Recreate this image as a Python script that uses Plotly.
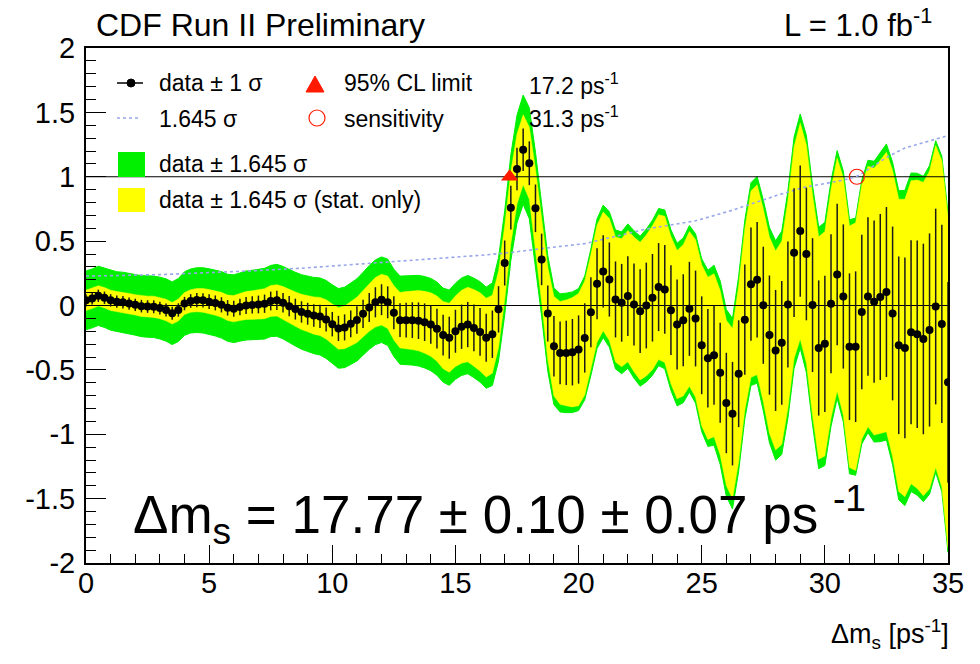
import plotly.graph_objects as go

# ---- amplitude scan data -------------------------------------------------
# oscillation frequency grid, ps^-1 (scan step 0.25)
dms = [round(0.25 * i, 2) for i in range(141)]

# fitted amplitude at each scan point
amplitude = [
    0.040, 0.055, 0.075, 0.060, 0.040, 0.030, 0.025, 0.015, 0.005, -0.005,
    -0.008, -0.010, -0.020, -0.035, -0.060, -0.035, 0.015, 0.035, 0.042, 0.040,
    0.030, 0.020, 0.005, -0.018, -0.025, -0.012, 0.000, 0.004, 0.008, 0.014,
    0.035, 0.040, 0.022, -0.005, -0.028, -0.050, -0.064, -0.078, -0.085, -0.108,
    -0.145, -0.178, -0.170, -0.142, -0.112, -0.065, -0.015, 0.025, 0.045, 0.025,
    -0.057, -0.114, -0.114, -0.114, -0.118, -0.130, -0.148, -0.180, -0.230, -0.250,
    -0.200, -0.165, -0.148, -0.174, -0.205, -0.250, -0.223, -0.030, 0.330, 0.760,
    1.060, 1.210, 1.105, 0.755, 0.358, -0.062, -0.317, -0.368, -0.368, -0.363,
    -0.342, -0.252, -0.052, 0.169, 0.265, 0.202, 0.047, 0.021, 0.073, 0.008,
    -0.044, 0.000, 0.060, 0.143, 0.125, -0.036, -0.148, -0.115, -0.026, -0.101,
    -0.309, -0.410, -0.386, -0.522, -0.757, -0.840, -0.530, -0.110, 0.166, 0.200,
    0.002, -0.230, -0.349, -0.290, 0.008, 0.410, 0.578, 0.400, 0.003, -0.330,
    -0.298, 0.014, 0.241, 0.070, -0.320, -0.320, -0.050, 0.070, 0.030, 0.066,
    0.105, -0.062, -0.309, -0.330, -0.208, -0.223, -0.260, -0.190, -0.008, -0.143,
    -0.597,
]

# statistical uncertainty on the amplitude
sigma_stat = [
    0.048, 0.048, 0.048, 0.048, 0.048, 0.048, 0.048, 0.048, 0.048,
    0.049, 0.049, 0.050, 0.050, 0.051, 0.051, 0.052, 0.052,
    0.053, 0.055, 0.056, 0.057, 0.058, 0.059, 0.060, 0.062,
    0.064, 0.066, 0.067, 0.069, 0.071, 0.073, 0.074, 0.076,
    0.078, 0.081, 0.083, 0.085, 0.088, 0.090, 0.093, 0.095,
    0.098, 0.101, 0.104, 0.107, 0.110, 0.113, 0.117, 0.120,
    0.124, 0.128, 0.131, 0.135, 0.139, 0.142, 0.146, 0.150,
    0.154, 0.159, 0.163, 0.167, 0.172, 0.176, 0.181, 0.185,
    0.186, 0.184, 0.180, 0.175,
    0.170, 0.165, 0.165, 0.170,
    0.185, 0.200, 0.218, 0.235,
    0.243, 0.250, 0.258, 0.265,
    0.269, 0.272, 0.276, 0.280,
    0.288, 0.295, 0.302, 0.310,
    0.318, 0.325, 0.333, 0.340,
    0.342, 0.345, 0.348, 0.350,
    0.357, 0.365, 0.372, 0.380,
    0.383, 0.385, 0.388, 0.390,
    0.402, 0.415, 0.428, 0.440,
    0.448, 0.455, 0.463, 0.470,
    0.480, 0.490, 0.500, 0.510,
    0.515, 0.520, 0.525, 0.530,
    0.540, 0.550, 0.560, 0.570,
    0.585, 0.600, 0.615, 0.630,
    0.645, 0.660, 0.675, 0.690,
    0.702, 0.715, 0.728, 0.740,
    0.750, 0.760, 0.770, 0.780,
]

# total (stat + syst) uncertainty on the amplitude
sigma_tot = [
    0.139, 0.139, 0.140, 0.140, 0.141, 0.141, 0.142, 0.143, 0.143, 0.144,
    0.145, 0.145, 0.146, 0.147, 0.148, 0.149, 0.150, 0.151, 0.153, 0.154,
    0.155, 0.156, 0.157, 0.158, 0.160, 0.161, 0.163, 0.164, 0.165, 0.167,
    0.168, 0.170, 0.171, 0.172, 0.174, 0.176, 0.178, 0.180, 0.182, 0.184,
    0.186, 0.188, 0.190, 0.192, 0.194, 0.196, 0.198, 0.200, 0.202, 0.204,
    0.206, 0.208, 0.210, 0.212, 0.214, 0.216, 0.218, 0.220, 0.222, 0.225,
    0.227, 0.230, 0.232, 0.235, 0.237, 0.239, 0.242, 0.244, 0.246, 0.250,
    0.254, 0.258, 0.262, 0.265, 0.269, 0.273, 0.276, 0.279, 0.282, 0.285,
    0.288, 0.292, 0.299, 0.306, 0.313, 0.320, 0.328, 0.335, 0.341, 0.348,
    0.354, 0.361, 0.366, 0.371, 0.375, 0.379, 0.384, 0.389, 0.393, 0.400,
    0.408, 0.416, 0.425, 0.433, 0.441, 0.450, 0.460, 0.469, 0.479, 0.488,
    0.498, 0.508, 0.518, 0.527, 0.537, 0.546, 0.553, 0.560, 0.565, 0.570,
    0.574, 0.579, 0.585, 0.592, 0.600, 0.607, 0.623, 0.643, 0.663, 0.683,
    0.699, 0.714, 0.730, 0.744, 0.752, 0.760, 0.768, 0.776, 0.783, 0.792,
    0.802,
]

limit_95 = 17.2        # 95% CL lower limit, ps^-1
sensitivity = 31.3     # expected sensitivity, ps^-1
k = 1.645

x_ticks = [0, 5, 10, 15, 20, 25, 30, 35]
y_ticks = [2, 1.5, 1, 0.5, 0, -0.5, -1, -1.5, -2]
y_ticklabels = ["2", "1.5", "1", "0.5", "0", "-0.5", "-1", "-1.5", "-2"]

# ---- derived bands -------------------------------------------------------
green_hi = [a + k * s for a, s in zip(amplitude, sigma_tot)]
green_lo = [a - k * s for a, s in zip(amplitude, sigma_tot)]
yellow_hi = [a + k * s for a, s in zip(amplitude, sigma_stat)]
yellow_lo = [a - k * s for a, s in zip(amplitude, sigma_stat)]
sens_line = [k * s for s in sigma_tot]

# ---- page geometry -------------------------------------------------------
W, H = 980, 664
ML, MR, MT, MB = 86, 32, 48, 101
FONT = "Liberation Sans, Arial, Helvetica, sans-serif"
GREEN = "#00f000"
YELLOW = "#ffff00"
RED = "#ff1a00"
BLUE_DOT = "#98a6ea"


def px(x):
    return (x - ML) / (W - ML - MR)


def py(y):
    return (H - MB - y) / (H - MT - MB)


fig = go.Figure()

fig.add_trace(go.Scatter(
    x=dms + dms[::-1], y=green_hi + green_lo[::-1],
    fill="toself", fillcolor=GREEN, line=dict(color=GREEN, width=1),
    mode="lines", hoverinfo="skip"))
fig.add_trace(go.Scatter(
    x=dms + dms[::-1], y=yellow_hi + yellow_lo[::-1],
    fill="toself", fillcolor=YELLOW, line=dict(color=YELLOW, width=0.5),
    mode="lines", hoverinfo="skip"))

for level in (0, 1):
    fig.add_trace(go.Scatter(
        x=[dms[0], dms[-1]], y=[level, level], mode="lines",
        line=dict(color="black", width=1.2), hoverinfo="skip"))

fig.add_trace(go.Scatter(
    x=dms, y=sens_line, mode="lines",
    line=dict(color=BLUE_DOT, width=1.6, dash="dot")))

fig.add_trace(go.Scatter(
    x=dms, y=amplitude, mode="markers",
    marker=dict(color="black", size=8),
    error_y=dict(type="data", array=sigma_stat, visible=True,
                 color="#1a1a1a", thickness=1.5, width=0)))

fig.add_trace(go.Scatter(
    x=[limit_95], y=[1.0], mode="markers",
    marker=dict(symbol="triangle-up", size=15, color=RED)))
fig.add_trace(go.Scatter(
    x=[sensitivity], y=[1.0], mode="markers",
    marker=dict(symbol="circle-open", size=15, color=RED,
                line=dict(color=RED, width=1.2))))

# ---- legend drawn inside the frame --------------------------------------
shapes = [
    dict(type="line", xref="paper", yref="paper",
         x0=px(117), x1=px(143), y0=py(83), y1=py(83),
         line=dict(color="black", width=1.5)),
    dict(type="circle", xref="paper", yref="paper",
         x0=px(127), x1=px(135), y0=py(87), y1=py(79),
         fillcolor="black", line=dict(color="black", width=1)),
    dict(type="line", xref="paper", yref="paper",
         x0=px(117), x1=px(141), y0=py(118), y1=py(118),
         line=dict(color=BLUE_DOT, width=1.6, dash="dot")),
    dict(type="path", xref="paper", yref="paper",
         path=f"M {px(306)},{py(92)} L {px(324)},{py(92)} L {px(315)},{py(76)} Z",
         fillcolor=RED, line=dict(color=RED, width=1)),
    dict(type="circle", xref="paper", yref="paper",
         x0=px(309), x1=px(325), y0=py(126), y1=py(110),
         line=dict(color=RED, width=1.2)),
    dict(type="rect", xref="paper", yref="paper",
         x0=px(118), x1=px(145), y0=py(177), y1=py(152),
         fillcolor=GREEN, line=dict(width=0)),
    dict(type="rect", xref="paper", yref="paper",
         x0=px(118), x1=px(145), y0=py(212), y1=py(188),
         fillcolor=YELLOW, line=dict(width=0)),
]


def label(text, x, y, size, xanchor="left"):
    return dict(text=text, x=px(x), y=py(y), xref="paper", yref="paper",
                xanchor=xanchor, yanchor="middle", showarrow=False,
                font=dict(family=FONT, size=size, color="black"))


annotations = [
    label("data ± 1 σ", 157, 83, 23),
    label("1.645 σ", 157, 119, 23),
    label("95% CL limit", 342, 83, 23),
    label("sensitivity", 342, 119, 23),
    label("17.2 ps<sup>-1</sup>", 527, 84, 23),
    label("31.3 ps<sup>-1</sup>", 527, 117, 23),
    label("data ± 1.645 σ", 157, 164, 23),
    label("data ± 1.645 σ (stat. only)", 157, 200, 23),
    label("CDF Run II Preliminary", 94, 25, 32),
    label("L = 1.0 fb<sup>-1</sup>", 934, 23, 31, xanchor="right"),
    label("Δm<sub>s</sub> [ps<sup>-1</sup>]", 951, 634, 27, xanchor="right"),
    label("Δm<sub>s</sub> = 17.77 ± 0.10 ± 0.07 ps <sup>-1</sup>", 131, 514, 53),
]

fig.update_layout(
    width=W, height=H,
    margin=dict(l=ML, r=MR, t=MT, b=MB, pad=0),
    paper_bgcolor="white", plot_bgcolor="white",
    showlegend=False,
    shapes=shapes, annotations=annotations,
    font=dict(family=FONT, color="black"),
)

fig.update_xaxes(
    range=[0, 35], showgrid=False, zeroline=False,
    showline=True, linecolor="black", linewidth=2, mirror=True,
    tickmode="array", tickvals=x_ticks, ticktext=[str(v) for v in x_ticks],
    ticks="inside", ticklen=18, tickwidth=1.3, tickcolor="black",
    tickfont=dict(family=FONT, size=29, color="black"),
    ticklabelstandoff=-7,
    minor=dict(tickmode="linear", tick0=0, dtick=1, ticks="inside",
               ticklen=9, tickwidth=1.2, tickcolor="black"),
)
fig.update_yaxes(
    range=[-2, 2], showgrid=False, zeroline=False,
    showline=True, linecolor="black", linewidth=2, mirror=True,
    tickmode="array", tickvals=y_ticks, ticktext=y_ticklabels,
    ticks="inside", ticklen=20, tickwidth=1.3, tickcolor="black",
    tickfont=dict(family=FONT, size=29, color="black"),
    ticklabelstandoff=3,
    minor=dict(tickmode="linear", tick0=0, dtick=0.1, ticks="inside",
               ticklen=10, tickwidth=1.2, tickcolor="black"),
)

fig.write_html("out.html")
